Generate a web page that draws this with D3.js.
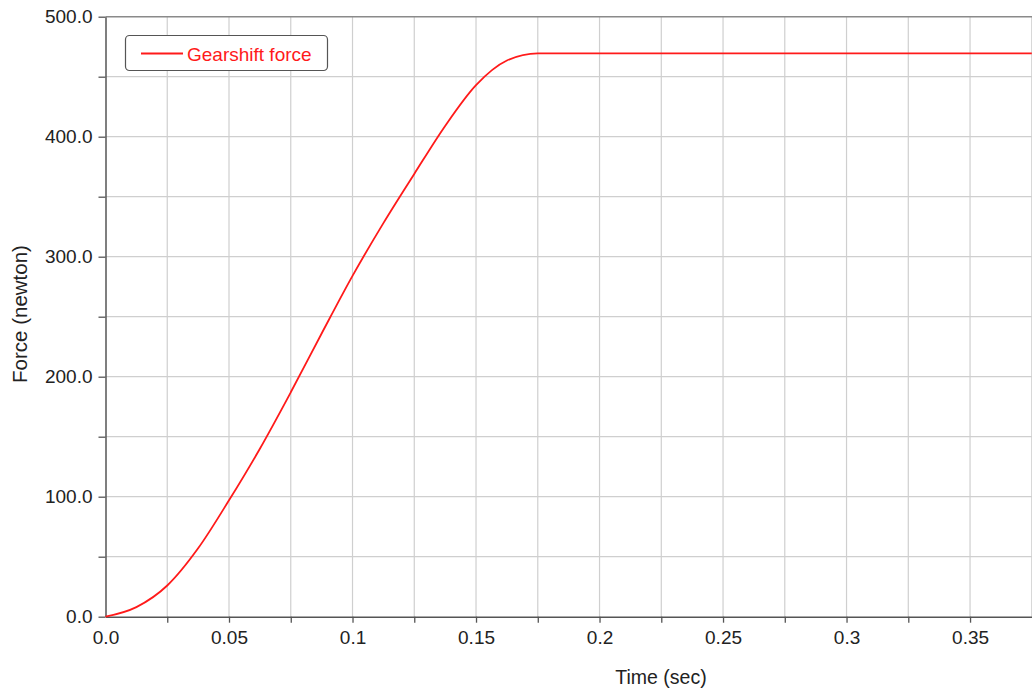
<!DOCTYPE html>
<html>
<head>
<meta charset="utf-8">
<script src="https://cdn.jsdelivr.net/npm/d3@7"></script>
<style>
  html, body { margin: 0; padding: 0; background: #fff; }
  svg { display: block; font-family: "Liberation Sans", Arial, sans-serif; }
</style>
</head>
<body>
<svg id="chart" width="1032" height="690"></svg>
<script>
// ---- data ----
const timeSec = [0, 0.0125, 0.025, 0.0375, 0.05, 0.0625, 0.075, 0.0875, 0.1, 0.1125, 0.125, 0.1375, 0.15, 0.1625, 0.175, 0.375];
const forceN  = [0, 8, 26, 57, 97, 140, 187, 236, 284, 328, 369, 409, 443, 463.5, 469.5, 469.5];
const seriesName = "Gearshift force";
const xTickValues = [0, 0.05, 0.1, 0.15, 0.2, 0.25, 0.3, 0.35];
const xTickLabels = ["0.0", "0.05", "0.1", "0.15", "0.2", "0.25", "0.3", "0.35"];
const yTickValues = [0, 100, 200, 300, 400, 500];
const yTickLabels = ["0.0", "100.0", "200.0", "300.0", "400.0", "500.0"];
const xMinorValues = [0.025, 0.075, 0.125, 0.175, 0.225, 0.275, 0.325, 0.375];
const yMinorValues = [50, 150, 250, 350, 450];

const svg = d3.select("#chart");
const L = 105.5, R = 1031.8, T = 16.7, B = 616.7;
const x = d3.scaleLinear().domain([0, 0.375]).range([L, R]);
const y = d3.scaleLinear().domain([0, 500]).range([B, T]);

const grid = svg.append("g");
const vgrid = xTickValues.concat(xMinorValues).filter(v => v > 0);
grid.selectAll("line.v").data(vgrid).enter().append("line")
  .attr("x1", d => x(d)).attr("x2", d => x(d))
  .attr("y1", T).attr("y2", B)
  .attr("stroke", "#cfcfcf").attr("stroke-width", 1.2);
const hgrid = yTickValues.concat(yMinorValues).filter(v => v > 0 && v < 500);
grid.selectAll("line.h").data(hgrid).enter().append("line")
  .attr("x1", L).attr("x2", 1032)
  .attr("y1", d => y(d)).attr("y2", d => y(d))
  .attr("stroke", "#cfcfcf").attr("stroke-width", 1.2);

// top border
svg.append("line").attr("x1", L).attr("x2", 1032).attr("y1", T).attr("y2", T)
  .attr("stroke", "#8a8a8a").attr("stroke-width", 1.6);

// axes
const xAxis = d3.axisBottom(x).tickValues(xTickValues)
  .tickFormat((d, i) => xTickLabels[i]).tickSize(6).tickPadding(6).tickSizeOuter(0);
const gx = svg.append("g").attr("transform", `translate(0,${B})`).call(xAxis);
gx.selectAll(".tick").filter(d => d === 0).select("line").remove();
const xMinor = d3.axisBottom(x).tickValues(xMinorValues.filter(v => v < 0.375)).tickFormat("").tickSize(6).tickSizeOuter(0);
const gxm = svg.append("g").attr("transform", `translate(0,${B})`).call(xMinor);
gxm.select(".domain").remove();

const yAxis = d3.axisLeft(y).tickValues(yTickValues)
  .tickFormat((d, i) => yTickLabels[i]).tickSize(7).tickPadding(6).tickSizeOuter(0);
const gy = svg.append("g").attr("transform", `translate(${L},0)`).call(yAxis);
const yMinor = d3.axisLeft(y).tickValues(yMinorValues).tickFormat("").tickSize(7).tickSizeOuter(0);
const gym = svg.append("g").attr("transform", `translate(${L},0)`).call(yMinor);
gym.select(".domain").remove();

[gx, gxm, gy, gym].forEach(g => {
  g.selectAll(".domain").attr("stroke", "#555").attr("stroke-width", 1.5);
  g.selectAll(".tick line").attr("stroke", "#555").attr("stroke-width", 1.3);
  g.selectAll(".tick text").attr("fill", "#222").style("font-size", "19px")
    .style("font-family", "'Liberation Sans', Arial, sans-serif");
});
gx.selectAll(".tick text").attr("dy", "0.8em");

// axis titles
svg.append("text").attr("x", 661).attr("y", 684).attr("text-anchor", "middle")
  .attr("fill", "#222").style("font-size", "19.5px").text("Time (sec)");
svg.append("text").attr("transform", "translate(27,314) rotate(-90)")
  .attr("text-anchor", "middle").attr("fill", "#222").style("font-size", "20.5px")
  .text("Force (newton)");

// line
const data = timeSec.map((t, i) => ({ t, f: forceN[i] }));
const line = d3.line().x(d => x(d.t)).y(d => y(d.f)).curve(d3.curveMonotoneX);
svg.append("path").datum(data).attr("d", line)
  .attr("fill", "none").attr("stroke", "#ff1a1a").attr("stroke-width", 1.8);

// legend
const lg = svg.append("g");
lg.append("rect").attr("x", 125.5).attr("y", 35.5).attr("width", 202).attr("height", 35)
  .attr("rx", 4).attr("fill", "#fff").attr("stroke", "#555").attr("stroke-width", 1.2);
lg.append("line").attr("x1", 141).attr("x2", 183).attr("y1", 53.5).attr("y2", 53.5)
  .attr("stroke", "#ff1a1a").attr("stroke-width", 1.8);
lg.append("text").attr("x", 187).attr("y", 60.5).attr("fill", "#ff1a1a")
  .style("font-size", "19px").text(seriesName);
</script>
</body>
</html>
